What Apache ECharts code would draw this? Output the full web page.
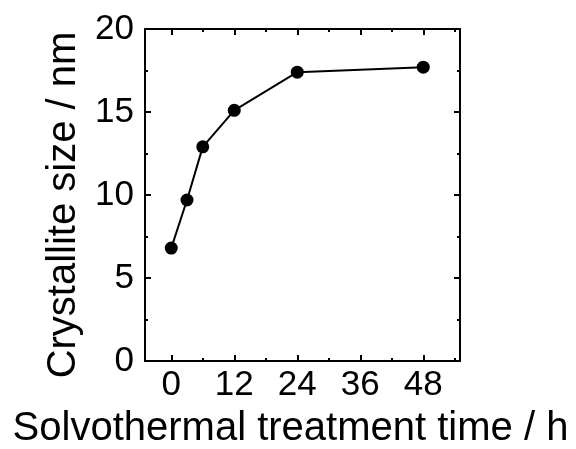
<!DOCTYPE html>
<html>
<head>
<meta charset="utf-8">
<script src="https://cdn.jsdelivr.net/npm/echarts@6/dist/echarts.min.js"></script>
<style>
  html, body { margin: 0; padding: 0; background: #fff; }
  #main { width: 576px; height: 449px; }
</style>
</head>
<body>
<div id="main"></div>
<script>
// treatment time (h) and crystallite size (nm)
var times = [0, 3, 6, 12, 24, 48];
var sizes = [6.8, 9.7, 12.9, 15.1, 17.4, 17.7];
var xMajor = [0, 12, 24, 36, 48];
var xMinor = [6, 18, 30, 42, 54];

var font = 'Liberation Sans, Arial, sans-serif';
var lineStyle = { color: '#000', width: 2 };

var points = [];
for (var i = 0; i < times.length; i++) {
  points.push([times[i], sizes[i]]);
}

// x axis builder: main (with line/labels) or overlay for minor ticks
function xAxisDef(pos, ticks, len, labels) {
  return {
    type: 'value',
    position: pos,
    min: -5,
    max: 55,
    axisLine: { show: labels !== null, onZero: false, lineStyle: lineStyle },
    axisTick: { show: true, inside: true, length: len, customValues: ticks, lineStyle: lineStyle },
    axisLabel: labels ? {
      show: true, customValues: labels, margin: 7,
      color: '#000', fontSize: 35, fontFamily: font
    } : { show: false },
    splitLine: { show: false }
  };
}

var chart = echarts.init(document.getElementById('main'));

var option = {
  animation: false,
  backgroundColor: '#fff',
  grid: { left: 145, right: 116, top: 29, bottom: 88, containLabel: false, outerBoundsMode: 'none' },
  xAxis: [
    Object.assign(xAxisDef('bottom', xMajor, 6, xMajor), {
      name: 'Solvothermal treatment time / h',
      nameLocation: 'middle',
      nameGap: 48,
      nameTextStyle: { color: '#000', fontSize: 40, fontFamily: font, padding: [0, 24, 0, 0] }
    }),
    xAxisDef('bottom', xMinor, 3, null),
    xAxisDef('top', xMajor, 6, false),
    xAxisDef('top', xMinor, 3, null)
  ],
  yAxis: [
    {
      type: 'value',
      position: 'left',
      min: 0,
      max: 20,
      interval: 5,
      name: 'Crystallite size / nm',
      nameLocation: 'middle',
      nameGap: 58,
      nameTextStyle: { color: '#000', fontSize: 40, fontFamily: font, padding: [0, 20, 0, 0] },
      axisLine: { show: true, onZero: false, lineStyle: lineStyle },
      axisTick: { show: true, inside: true, length: 6, lineStyle: lineStyle },
      minorTick: { show: true, splitNumber: 2, length: 3, lineStyle: lineStyle },
      axisLabel: { color: '#000', fontSize: 35, fontFamily: font, margin: 11 },
      splitLine: { show: false }
    },
    {
      type: 'value',
      position: 'right',
      min: 0,
      max: 20,
      interval: 5,
      axisLine: { show: true, onZero: false, lineStyle: lineStyle },
      axisTick: { show: true, inside: true, length: 6, lineStyle: lineStyle },
      minorTick: { show: true, splitNumber: 2, length: 3, lineStyle: lineStyle },
      axisLabel: { show: false },
      splitLine: { show: false }
    }
  ],
  series: [
    {
      type: 'line',
      xAxisIndex: 0,
      yAxisIndex: 0,
      data: points,
      symbol: 'circle',
      symbolSize: 13,
      itemStyle: { color: '#000' },
      lineStyle: { color: '#000', width: 2 }
    }
  ]
};

chart.setOption(option);
</script>
</body>
</html>
